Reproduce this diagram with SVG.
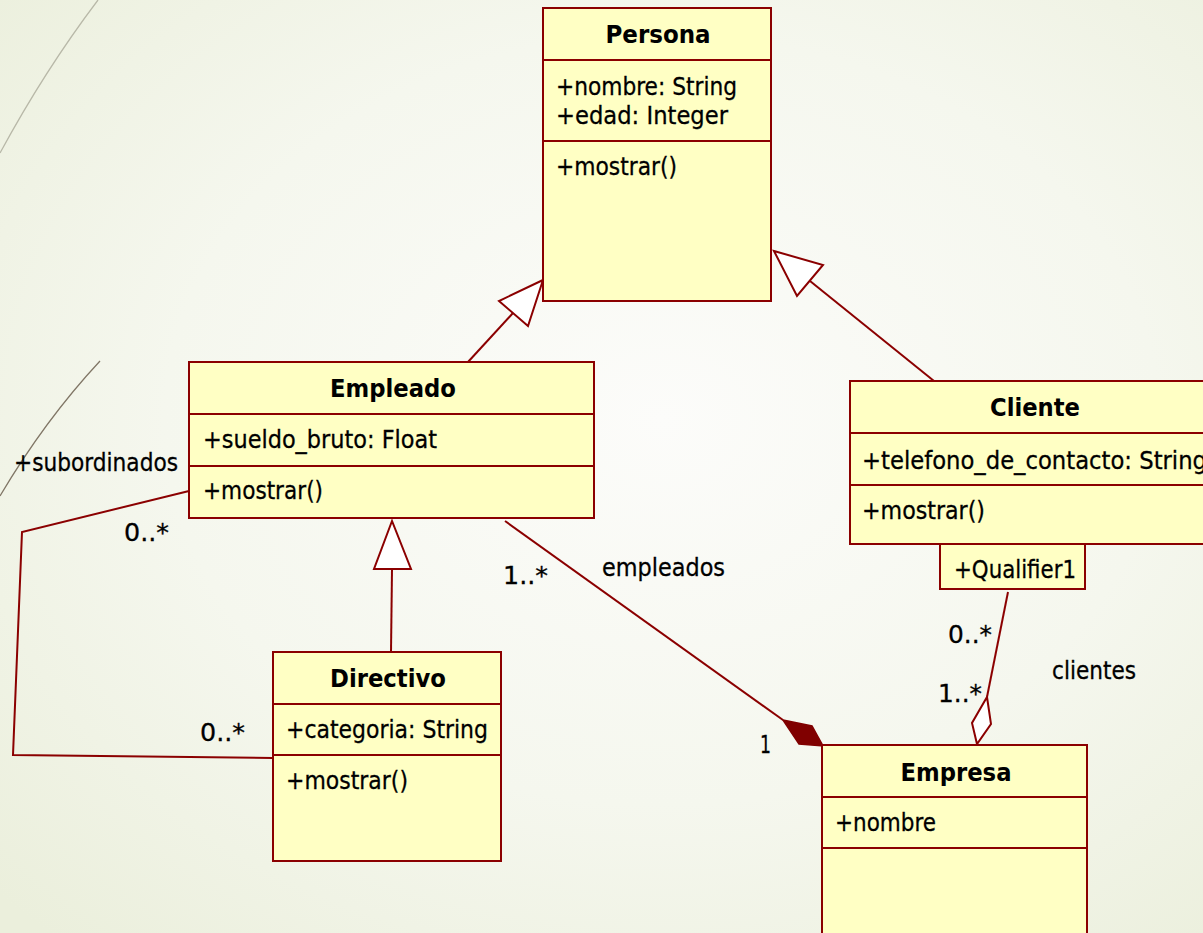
<svg xmlns="http://www.w3.org/2000/svg" width="1203" height="933" viewBox="0 0 1203 933">
  <defs>
    <radialGradient id="bg" cx="0.55" cy="0.45" r="0.75">
      <stop offset="0" stop-color="#fcfcfa"/>
      <stop offset="0.55" stop-color="#f5f7ee"/>
      <stop offset="1" stop-color="#ebefdc"/>
    </radialGradient>
    <style>
      .box { fill: #ffffc4; stroke: #8b0000; stroke-width: 2; }
      .div { stroke: #8b0000; stroke-width: 2; }
      .edge { fill: none; stroke: #8b0000; stroke-width: 2; }
      .tri { fill: #ffffff; stroke: #8b0000; stroke-width: 2; stroke-linejoin: miter; }
      .t { font-family: "DejaVu Sans", Verdana, sans-serif; font-size: 24.5px; fill: #000000; stroke: #000000; stroke-width: 0.3; }
      .h { font-family: "DejaVu Sans", Verdana, sans-serif; font-size: 24px; font-weight: bold; fill: #000000; text-anchor: middle; }
      .deco { fill: none; stroke-width: 1.3; }
    </style>
  </defs>

  <!-- page background -->
  <rect x="0" y="0" width="1203" height="933" fill="url(#bg)"/>
  <path class="deco" d="M98 0 Q45 70 0 153" stroke="#b8b8a8"/>
  <path class="deco" d="M100 361 Q45 420 0 496" stroke="#807666"/>

  <!-- connectors -->
  <g id="connectors">
    <!-- Empleado generalizes Persona -->
    <line class="edge" x1="468" y1="362" x2="513" y2="313"/>
    <polygon class="tri" points="543,280 499,301 528,326"/>
    <!-- Cliente generalizes Persona -->
    <line class="edge" x1="934" y1="381" x2="810" y2="281"/>
    <polygon class="tri" points="774,251 823,265 797,296"/>
    <!-- Directivo generalizes Empleado -->
    <line class="edge" x1="391" y1="652" x2="392" y2="569"/>
    <polygon class="tri" points="392,521 374,569 411,569"/>
    <!-- subordinados self association -->
    <polyline class="edge" points="189,491 22,532 13,755 273,758"/>
    <!-- Empleado composed in Empresa -->
    <line class="edge" x1="505" y1="521" x2="783" y2="720"/>
    <polygon points="783,720 812,726 823,746 799,744" fill="#800000" stroke="#800000" stroke-width="1.5"/>
    <!-- Cliente aggregated by Empresa -->
    <line class="edge" x1="1008" y1="592" x2="987" y2="697"/>
    <polygon class="tri" points="987,697 991,724 977,744 972,723"/>

    <text class="t" x="14" y="471" textLength="164" lengthAdjust="spacingAndGlyphs">+subordinados</text>
    <text class="t" x="124" y="541" textLength="45" lengthAdjust="spacingAndGlyphs">0..*</text>
    <text class="t" x="200" y="741" textLength="45" lengthAdjust="spacingAndGlyphs">0..*</text>
    <text class="t" x="503" y="584" textLength="45" lengthAdjust="spacingAndGlyphs">1..*</text>
    <text class="t" x="602" y="576" textLength="123" lengthAdjust="spacingAndGlyphs">empleados</text>
    <text class="t" x="760" y="753" textLength="11" lengthAdjust="spacingAndGlyphs">1</text>
    <text class="t" x="948" y="643" textLength="44" lengthAdjust="spacingAndGlyphs">0..*</text>
    <text class="t" x="938" y="702" textLength="44" lengthAdjust="spacingAndGlyphs">1..*</text>
    <text class="t" x="1052" y="679" textLength="84" lengthAdjust="spacingAndGlyphs">clientes</text>
  </g>

  <!-- Persona -->
  <g id="persona">
    <rect class="box" x="543" y="8" width="228" height="293"/>
    <line class="div" x1="543" y1="60" x2="771" y2="60"/>
    <line class="div" x1="543" y1="141" x2="771" y2="141"/>
    <text class="h" x="658" y="43" textLength="105" lengthAdjust="spacingAndGlyphs">Persona</text>
    <text class="t" x="556" y="95" textLength="181" lengthAdjust="spacingAndGlyphs">+nombre: String</text>
    <text class="t" x="556" y="124" textLength="172" lengthAdjust="spacingAndGlyphs">+edad: Integer</text>
    <text class="t" x="556" y="175" textLength="121" lengthAdjust="spacingAndGlyphs">+mostrar()</text>
  </g>

  <!-- Empleado -->
  <g id="empleado">
    <rect class="box" x="189" y="362" width="405" height="156"/>
    <line class="div" x1="189" y1="414" x2="594" y2="414"/>
    <line class="div" x1="189" y1="466" x2="594" y2="466"/>
    <text class="h" x="393" y="397" textLength="126" lengthAdjust="spacingAndGlyphs">Empleado</text>
    <text class="t" x="203" y="448" textLength="234" lengthAdjust="spacingAndGlyphs">+sueldo_bruto: Float</text>
    <text class="t" x="203" y="499" textLength="120" lengthAdjust="spacingAndGlyphs">+mostrar()</text>
  </g>

  <!-- Cliente -->
  <g id="cliente">
    <rect class="box" x="850" y="381" width="370" height="163"/>
    <line class="div" x1="850" y1="433" x2="1220" y2="433"/>
    <line class="div" x1="850" y1="485" x2="1220" y2="485"/>
    <text class="h" x="1035" y="416" textLength="90" lengthAdjust="spacingAndGlyphs">Cliente</text>
    <text class="t" x="862" y="469" textLength="345" lengthAdjust="spacingAndGlyphs">+telefono_de_contacto: String</text>
    <text class="t" x="862" y="519" textLength="123" lengthAdjust="spacingAndGlyphs">+mostrar()</text>
  </g>

  <!-- Qualifier of Cliente -->
  <g id="qualifier">
    <rect class="box" x="940" y="544" width="145" height="45"/>
    <text class="t" x="954" y="578" textLength="122" lengthAdjust="spacingAndGlyphs">+Qualifier1</text>
  </g>

  <!-- Directivo -->
  <g id="directivo">
    <rect class="box" x="273" y="652" width="228" height="209"/>
    <line class="div" x1="273" y1="704" x2="501" y2="704"/>
    <line class="div" x1="273" y1="755" x2="501" y2="755"/>
    <text class="h" x="388" y="687" textLength="116" lengthAdjust="spacingAndGlyphs">Directivo</text>
    <text class="t" x="286" y="738" textLength="202" lengthAdjust="spacingAndGlyphs">+categoria: String</text>
    <text class="t" x="286" y="789" textLength="122" lengthAdjust="spacingAndGlyphs">+mostrar()</text>
  </g>

  <!-- Empresa -->
  <g id="empresa">
    <rect class="box" x="822" y="745" width="265" height="200"/>
    <line class="div" x1="822" y1="797" x2="1087" y2="797"/>
    <line class="div" x1="822" y1="848" x2="1087" y2="848"/>
    <text class="h" x="956" y="781" textLength="111" lengthAdjust="spacingAndGlyphs">Empresa</text>
    <text class="t" x="835" y="831" textLength="101" lengthAdjust="spacingAndGlyphs">+nombre</text>
  </g>
</svg>
